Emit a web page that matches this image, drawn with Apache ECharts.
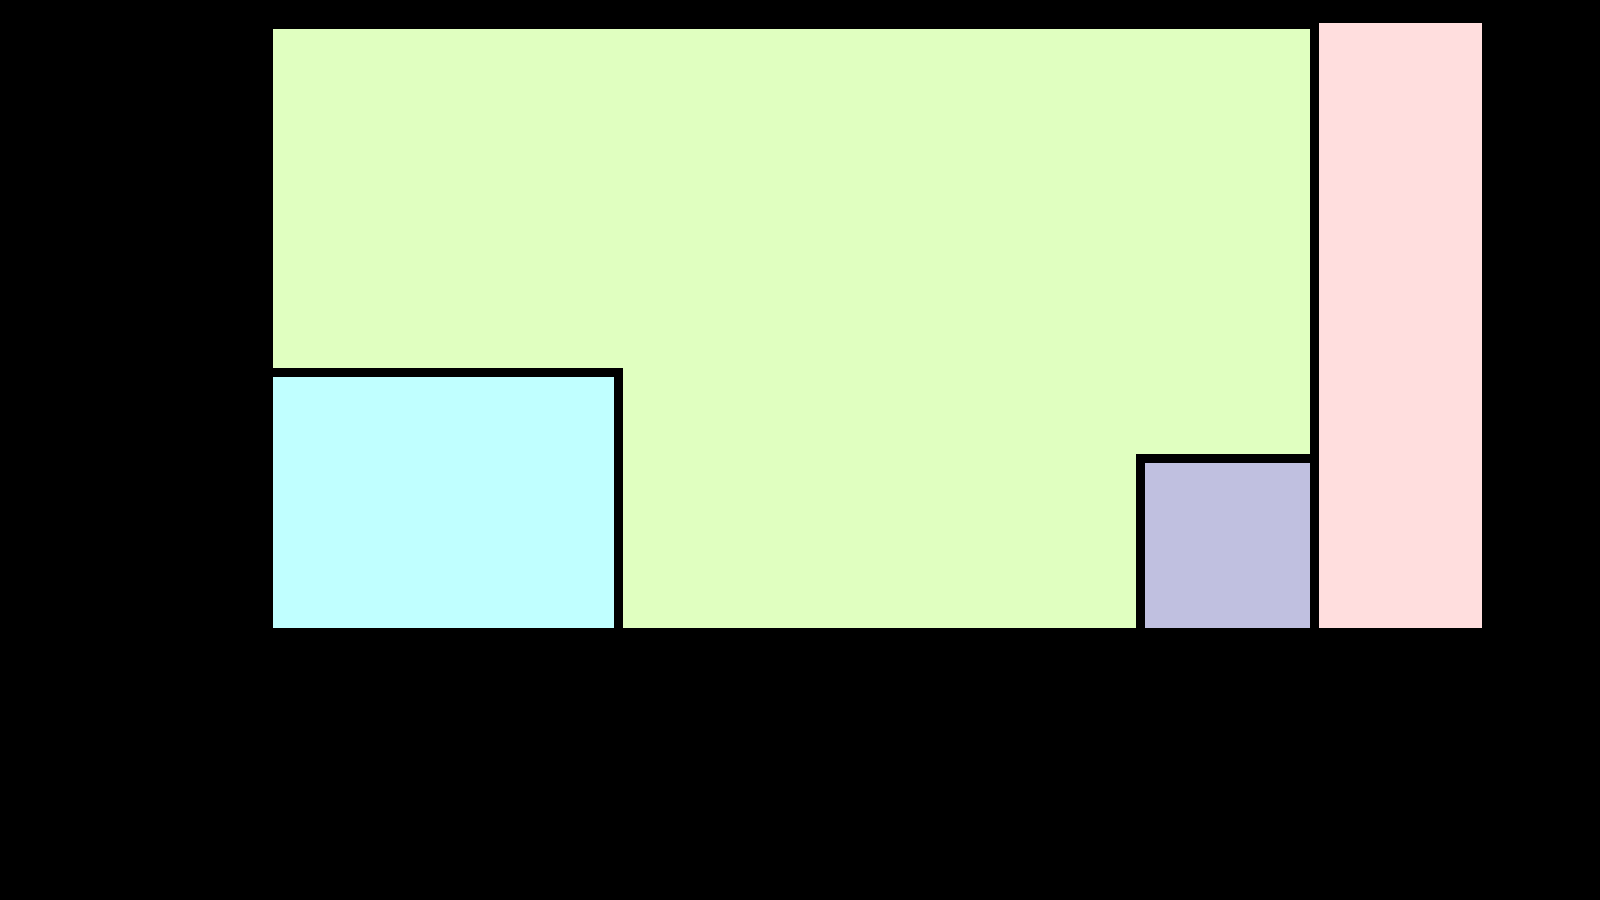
<!DOCTYPE html>
<html>
<head>
<meta charset="utf-8">
<script src="https://cdn.jsdelivr.net/npm/echarts@6/dist/echarts.min.js"></script>
<style>
html,body{margin:0;padding:0;background:#000;}
#chart{width:1600px;height:900px;}
</style>
</head>
<body>
<div id="chart"></div>
<script>
// Regions (data units along the chart's x and y value axes)
const names   = ['Region A', 'Region B', 'Region C', 'Region D'];
const xStart  = [0,    0,   872,  1046];
const xEnd    = [1037, 341, 1037, 1209];
const yTop    = [599,  251, 165,  605];
const colors  = ['#e0ffc0', '#c0ffff', '#c0c0e0', '#ffdede'];
const bordered = [false, true, true, false];

const data = names.map((n, i) => ({
  name: n,
  value: [xStart[i], xEnd[i], 0, yTop[i], i]
}));

const chart = echarts.init(document.getElementById('chart'));
chart.setOption({
  backgroundColor: '#000000',
  animation: false,
  grid: { left: 273, top: 23, width: 1209, height: 605 },
  xAxis: { type: 'value', min: 0, max: 1209, show: false },
  yAxis: { type: 'value', min: 0, max: 605, show: false },
  series: [{
    type: 'custom',
    clip: false,
    encode: { x: [0, 1], y: [2, 3] },
    data: data,
    renderItem: function (params, api) {
      const i = api.value(4);
      const p0 = api.coord([api.value(0), api.value(2)]);
      const p1 = api.coord([api.value(1), api.value(3)]);
      const x = p0[0], y = p1[1], w = p1[0] - p0[0], h = p0[1] - p1[1];
      const children = [];
      if (bordered[i]) {
        const b = 9;
        children.push({ type: 'rect', shape: { x: x - b, y: y - b, width: w + 2 * b, height: h + 2 * b }, style: { fill: '#000000' } });
      }
      children.push({ type: 'rect', shape: { x: x, y: y, width: w, height: h }, style: { fill: colors[i] } });
      return { type: 'group', children: children };
    }
  }]
});
</script>
</body>
</html>
